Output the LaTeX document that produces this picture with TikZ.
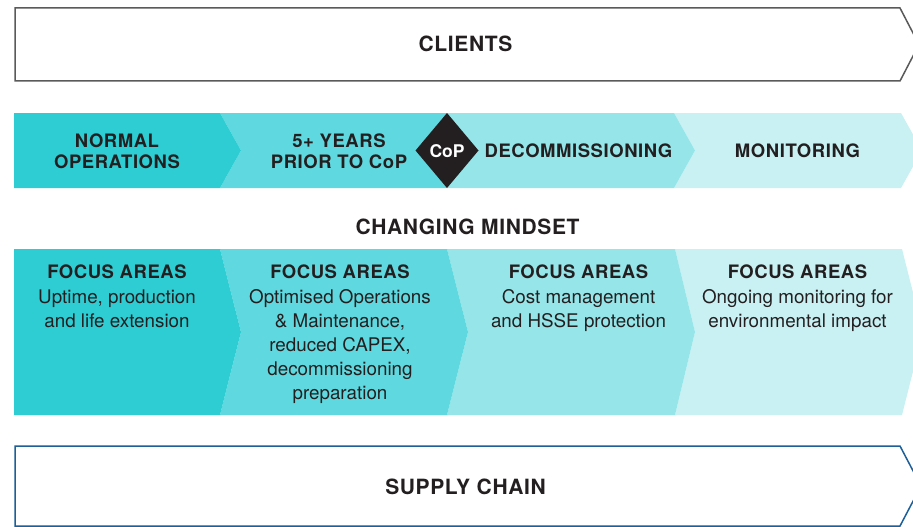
\documentclass[tikz,border=0pt]{standalone}
\usepackage{fontspec}
\setmainfont{TeX Gyre Heros}
\newfontfamily\hvsp[LetterSpace=3]{TeX Gyre Heros}
\definecolor{txt}{HTML}{231F20}
\definecolor{cA}{HTML}{2ECDD3}
\definecolor{cB}{HTML}{5FD9DF}
\definecolor{cC}{HTML}{95E5E9}
\definecolor{cD}{HTML}{C9F1F3}
\definecolor{clientline}{HTML}{5A5A5A}
\definecolor{supplyline}{HTML}{1D5F98}
\begin{document}
\begin{tikzpicture}[x=1pt,y=-1pt,
  bigtitle/.style={font=\hvsp\bfseries\fontsize{21}{24}\selectfont, text=txt, inner sep=0pt, anchor=base},
  rowlabel/.style={font=\hvsp\bfseries\fontsize{18.5}{21}\selectfont, text=txt, inner sep=0pt, align=center, anchor=base},
  focushead/.style={font=\hvsp\bfseries\fontsize{18.5}{24}\selectfont, text=txt, inner sep=0pt, anchor=base},
  focusbody/.style={font=\fontsize{18.8}{24}\selectfont, text=txt, inner sep=0pt, align=center, anchor=base},
  outline/.style={line width=1.5pt, fill=white, line join=miter}]
\useasboundingbox (0,0) rectangle (913,527);
\begin{scope}
\clip (0,0) rectangle (913,527);
% Clients arrow
\draw[outline, draw=clientline] (15,8) -- (900,8) -- (919,44.5) -- (900,81) -- (15,81) -- cycle;
\node[bigtitle] (clients) at (465.5,51.5) {CLIENTS};
% Row 1 chevrons
\fill[cD] (674,113) -- (901,113) -- (922,150.5) -- (901,188) -- (674,188) -- (695,150.5) -- cycle;
\fill[cC] (447,113) -- (674,113) -- (695,150.5) -- (674,188) -- (447,188) -- cycle;
\fill[cB] (220,113) -- (447,113) -- (447,188) -- (220,188) -- (241,150.5) -- cycle;
\fill[cA] (14,113) -- (220,113) -- (241,150.5) -- (220,188) -- (14,188) -- cycle;
\fill[txt] (415.5,150.5) -- (447,113) -- (478.5,150.5) -- (447,188) -- cycle;
\node[font=\bfseries\fontsize{17.5}{20}\selectfont, text=white, inner sep=0pt, anchor=base] (cop) at (447,157) {CoP};
\node[rowlabel] (normal) at (117,168) {NORMAL\\OPERATIONS};
\node[rowlabel] (prior) at (339,168) {5+ YEARS\\PRIOR TO CoP};
\node[rowlabel] (decom) at (578.5,157) {DECOMMISSIONING};
\node[rowlabel] (monit) at (797.5,157) {MONITORING};
% Changing mindset
\node[bigtitle] (mindset) at (467.5,234) {CHANGING MINDSET};
% Row 2 chevrons
\fill[cD] (675,249) -- (902,249) -- (923,332) -- (902,415) -- (675,415) -- (695,332) -- cycle;
\fill[cC] (447,249) -- (675,249) -- (695,332) -- (675,415) -- (447,415) -- (468,332) -- cycle;
\fill[cB] (220,249) -- (447,249) -- (468,332) -- (447,415) -- (220,415) -- (241,332) -- cycle;
\fill[cA] (14,249) -- (220,249) -- (241,332) -- (220,415) -- (14,415) -- cycle;
\node[focushead] (fa1) at (117,278) {FOCUS AREAS};
\node[focushead] (fa2) at (340,278) {FOCUS AREAS};
\node[focushead] (fa3) at (578.5,278) {FOCUS AREAS};
\node[focushead] (fa4) at (797.5,278) {FOCUS AREAS};
\node[focusbody] (fb1) at (117,327) {Uptime, production\\and life extension};
\node[focusbody] (fb2) at (340,399) {Optimised Operations\\\& Maintenance,\\reduced CAPEX,\\decommissioning\\preparation};
\node[focusbody] (fb3) at (578.5,327) {Cost management\\and HSSE protection};
\node[focusbody] (fb4) at (797.5,327) {Ongoing monitoring for\\environmental impact};
% Supply chain arrow
\draw[outline, draw=supplyline] (15,446) -- (900,446) -- (921,486) -- (900,526) -- (15,526) -- cycle;
\node[bigtitle] (supply) at (465.5,494) {SUPPLY CHAIN};
\end{scope}
\end{tikzpicture}
\end{document}
